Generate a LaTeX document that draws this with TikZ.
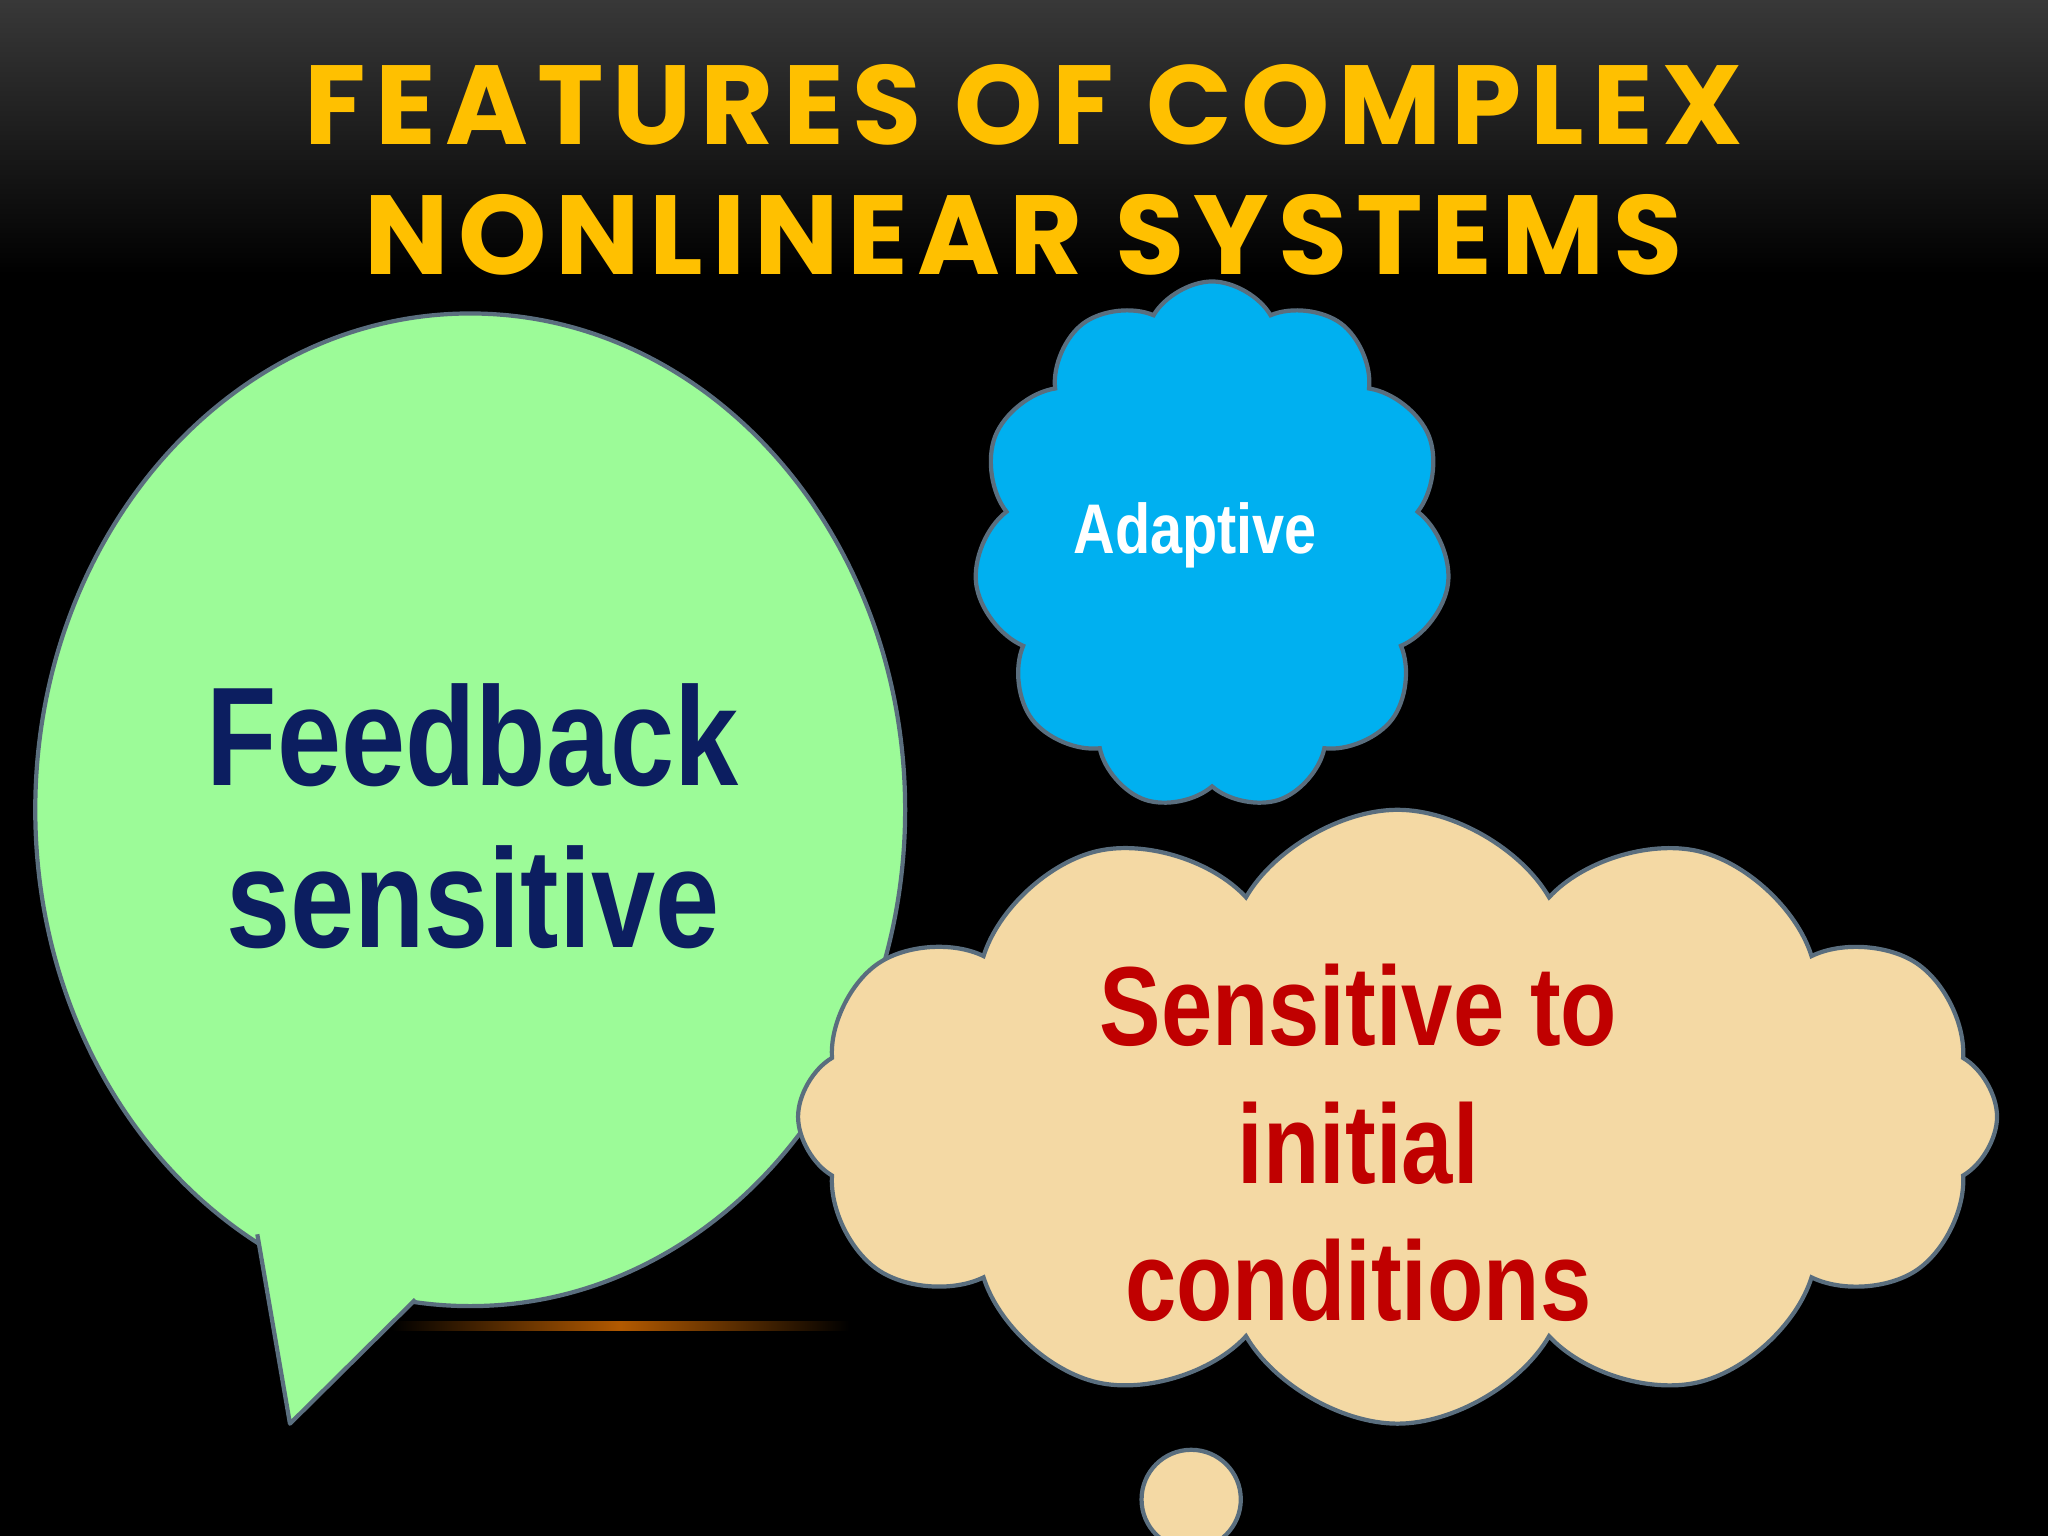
\documentclass[tikz,border=0pt]{standalone}
\usepackage{fontspec}
\usetikzlibrary{shapes.symbols}
\newfontfamily\narrow[FakeStretch=0.82]{Liberation Sans}
\newfontfamily\titlefont[LetterSpace=8]{Poppins}
\definecolor{ttl}{HTML}{FFC000}
\definecolor{grn}{HTML}{9CFB98}
\definecolor{blu}{HTML}{00B0F0}
\definecolor{tan}{HTML}{F4D9A4}
\definecolor{navy}{HTML}{0C1E60}
\definecolor{dred}{HTML}{C00000}
\definecolor{edge}{HTML}{5A6E7E}
\tikzset{
  shapeline/.style={draw=edge, line width=1.2pt},
  cloudshape/.style={cloud, cloud puffs=11, cloud puff arc=120, shapeline, inner sep=0pt},
}
\begin{document}
\begin{tikzpicture}[x=0.01306cm,y=-0.01306cm]
\shade[top color=black!78, bottom color=black, middle color=black] (0,0) rectangle (1568,420);
\fill[black] (0,419) rectangle (1568,1176);
\useasboundingbox (0,0) rectangle (1568,1176);
\shade[left color=black, right color=black, middle color=orange!70!black] (300,1012) rectangle (650,1019);
\node[text=ttl, font=\titlefont\bfseries\fontsize{32}{35}\selectfont, align=center] (title) at (784,130) {FEATURES OF COMPLEX\\[2pt]NONLINEAR SYSTEMS};
% green speech bubble
\draw[shapeline, fill=grn] (360,620) ellipse[x radius=333, y radius=380];
\fill[grn] (197,945) -- (222,1090) -- (318,995) -- (320,985) -- (200,935) -- cycle;
\draw[shapeline, line join=round] (197,945) -- (222,1090) -- (318,995);
\node[text=navy, font=\narrow\bfseries\fontsize{40}{46}\selectfont, align=center] (fb) at (362,625) {Feedback\\sensitive};
% blue cloud
\node[cloudshape, fill=blu, minimum width=365*0.01306cm, minimum height=405*0.01306cm, aspect=0.9] (ad) at (928,418) {};
\node[text=white, font=\narrow\bfseries\fontsize{20}{24}\selectfont] (adt) at (915,410) {Adaptive};
% tan cloud
\node[cloudshape, fill=tan, cloud puffs=12, minimum width=918*0.01306cm, minimum height=470*0.01306cm, aspect=1.9] (st) at (1070,855) {};
\node[text=dred, font=\narrow\bfseries\fontsize{32}{39}\selectfont, align=center] (stt) at (1040,875) {Sensitive to\\initial\\conditions};
\node[circle, shapeline, fill=tan, minimum size=76*0.01306cm] (b1) at (912,1148) {};
\end{tikzpicture}
\end{document}
